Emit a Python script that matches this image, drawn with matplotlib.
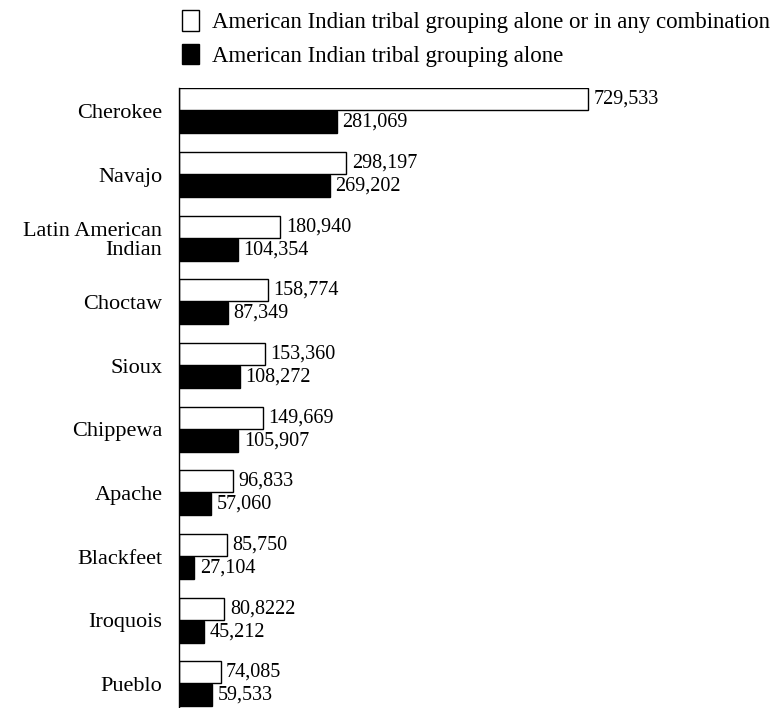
import matplotlib.pyplot as plt
from matplotlib.patches import Patch
import numpy as np

plt.rcParams['font.family'] = ['Liberation Serif', 'DejaVu Serif']

tribes = ['Cherokee', 'Navajo', 'Latin American\nIndian', 'Choctaw', 'Sioux',
          'Chippewa', 'Apache', 'Blackfeet', 'Iroquois', 'Pueblo']
combo = [729533, 298197, 180940, 158774, 153360, 149669, 96833, 85750, 80822, 74085]
alone = [281069, 269202, 104354, 87349, 108272, 105907, 57060, 27104, 45212, 59533]
combo_labels = ['729,533', '298,197', '180,940', '158,774', '153,360',
                '149,669', '96,833', '85,750', '80,8222', '74,085']
alone_labels = ['281,069', '269,202', '104,354', '87,349', '108,272',
                '105,907', '57,060', '27,104', '45,212', '59,533']

fig = plt.figure(figsize=(7.79, 7.08), dpi=100)
ax = fig.add_axes([179/779, 0, 600/779, 620/708])

y = np.arange(len(tribes))
h = 0.345
off = 0.18
ax.barh(y - off, combo, height=h, color='white', edgecolor='black', linewidth=1.0)
ax.barh(y + off, alone, height=h, color='black', edgecolor='black', linewidth=1.0)

for yi, v, t in zip(y, combo, combo_labels):
    ax.annotate(t, (v, yi - off), xytext=(4, 0), textcoords='offset points',
                va='center', ha='left', fontsize=14.5)
for yi, v, t in zip(y, alone, alone_labels):
    ax.annotate(t, (v, yi + off), xytext=(4, 0), textcoords='offset points',
                va='center', ha='left', fontsize=14.5)

ax.set_xlim(0, 1070000)
ax.set_ylim(9.38, -0.36)
ax.set_yticks(y)
ax.set_yticklabels(tribes, fontsize=16, ha='right', linespacing=1.05)
ax.tick_params(axis='y', length=0, pad=12)
ax.set_xticks([])
for s in ['top', 'right', 'bottom']:
    ax.spines[s].set_visible(False)
ax.spines['left'].set_linewidth(1.0)

handles = [Patch(facecolor='white', edgecolor='black', linewidth=1.0),
           Patch(facecolor='black', edgecolor='black', linewidth=1.0)]
fig.legend(handles,
           ['American Indian tribal grouping alone or in any combination',
            'American Indian tribal grouping alone'],
           loc='upper left', bbox_to_anchor=(166/779, 1.008), frameon=False,
           fontsize=16.5, handlelength=0.75, handleheight=1.0, handletextpad=0.55,
           labelspacing=0.45, borderaxespad=0.3)

fig.savefig('out.png', dpi=100)
